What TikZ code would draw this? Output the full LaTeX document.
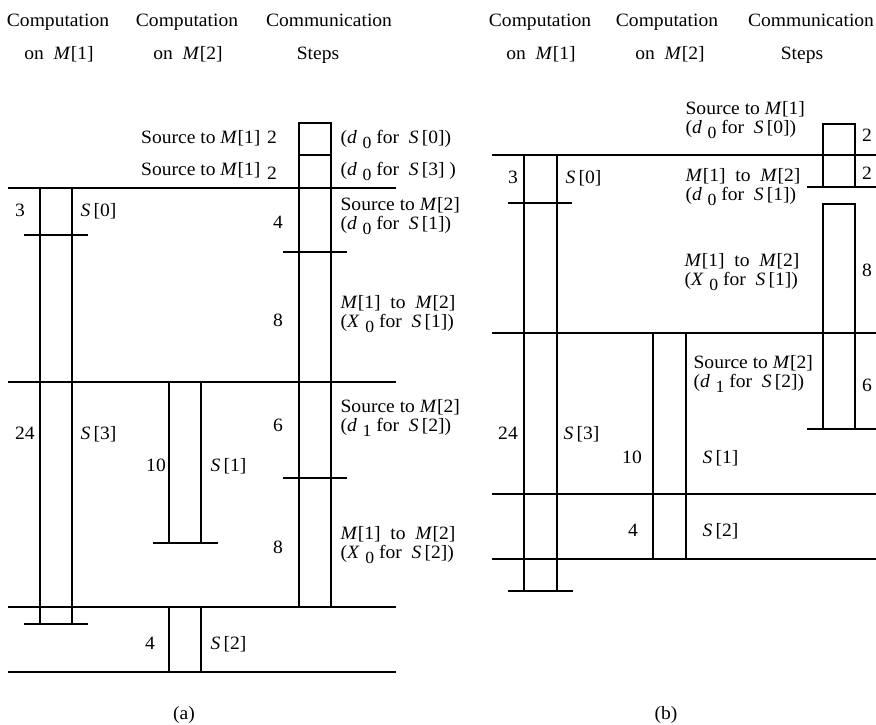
\documentclass[tikz,border=0pt]{standalone}
\usepackage{fontspec}
\setmainfont{Liberation Serif}[FakeStretch=1.04]
\newcommand{\Mx}[1]{\textit{M}[#1]}
\newcommand{\Sx}[1]{\textit{S}\,[#1]}
\newcommand{\dsub}[2]{(\textit{#1}\hspace{0.3em}\raisebox{-0.6ex}{\fontsize{17}{17}\selectfont #2}}
\begin{document}
\begin{tikzpicture}[x=1pt,y=-1pt,line width=1.2pt,
  every node/.style={inner sep=0pt,font=\fontsize{18.8}{22}\selectfont,
    text height=10pt,text depth=3pt},
  lab/.style={anchor=base,yshift=-6pt},
  lw/.style={anchor=base west,yshift=-6pt},
  le/.style={anchor=base east,yshift=-6pt}]
\useasboundingbox (0,0) rectangle (876,724);
% ---------- panel (a) headers
\node[lab] (ha1) at (58,20) {Computation};
\node[lab] (ha1b) at (59,53) {on\ \ \Mx{1}};
\node[lab] (ha2) at (187,20) {Computation};
\node[lab] (ha2b) at (188,53) {on\ \ \Mx{2}};
\node[lab] (ha3) at (329,20) {Communication};
\node[lab] (ha3b) at (318,53) {Steps};
% ---------- panel (a) lines
\draw (8,188) -- (396,188);
\draw (8,382) -- (396,382);
\draw (8,607) -- (396,607);
\draw (8,672) -- (396,672);
\draw (299,123) rectangle (331,607);
\draw (299,155) -- (331,155);
\draw (283,252) -- (347,252);
\draw (283,478) -- (347,478);
\draw (40,188) -- (40,624);
\draw (72,188) -- (72,624);
\draw (24,235) -- (88,235);
\draw (24,624) -- (88,624);
\draw (169,382) -- (169,543);
\draw (201,382) -- (201,543);
\draw (153,543) -- (218,543);
\draw (169,607) rectangle (201,672);
% ---------- panel (a) labels
\node[le] (a1) at (261,137) {Source to \Mx{1}};
\node[lab] (a1n) at (272,137) {2};
\node[lw] (a1r) at (340,137) {\dsub{d}{0} for\ \ \Sx{0})};
\node[le] (a2) at (261,169) {Source to \Mx{1}};
\node[lab] (a2n) at (272,173) {2};
\node[lw] (a2r) at (340,169) {\dsub{d}{0} for\ \ \Sx{3} )};
\node[lab] (a3) at (20,210) {3};
\node[lw] (a3s) at (80,210) {\Sx{0}};
\node[lab] (a4) at (278,222) {4};
\node[lw] (a4a) at (340,204) {Source to \Mx{2}};
\node[lw] (a4b) at (340,223) {\dsub{d}{0} for\ \ \Sx{1})};
\node[lab] (a5) at (278,320) {8};
\node[lw] (a5a) at (340,302) {\Mx{1}\ \ to\ \ \Mx{2}};
\node[lw] (a5b) at (340,321) {\dsub{X}{0} for\ \ \Sx{1})};
\node[lab] (a6) at (25,433) {24};
\node[lw] (a6s) at (80,433) {\Sx{3}};
\node[lab] (a7) at (278,425) {6};
\node[lw] (a7a) at (340,406) {Source to \Mx{2}};
\node[lw] (a7b) at (340,425) {\dsub{d}{1} for\ \ \Sx{2})};
\node[lab] (a8) at (156,465) {10};
\node[lw] (a8s) at (210,465) {\Sx{1}};
\node[lab] (a9) at (278,547) {8};
\node[lw] (a9a) at (340,533) {\Mx{1}\ \ to\ \ \Mx{2}};
\node[lw] (a9b) at (340,552) {\dsub{X}{0} for\ \ \Sx{2})};
\node[lab] (a10) at (150,643) {4};
\node[lw] (a10s) at (210,643) {\Sx{2}};
\node[lab] (capa) at (184,713) {(a)};
% ---------- panel (b) headers
\node[lab] (hb1) at (540,20) {Computation};
\node[lab] (hb1b) at (541,53) {on\ \ \Mx{1}};
\node[lab] (hb2) at (667,20) {Computation};
\node[lab] (hb2b) at (670,53) {on\ \ \Mx{2}};
\node[lab] (hb3) at (811,20) {Communication};
\node[lab] (hb3b) at (802,53) {Steps};
% ---------- panel (b) lines
\draw (492,155) -- (876,155);
\draw (492,333) -- (876,333);
\draw (492,494) -- (876,494);
\draw (492,559) -- (876,559);
\draw (823,124) rectangle (855,187);
\draw (807,187) -- (876,187);
\draw (823,204) rectangle (855,333);
\draw (823,333) -- (823,429);
\draw (855,333) -- (855,429);
\draw (807,429) -- (876,429);
\draw (524,155) -- (524,591);
\draw (557,155) -- (557,591);
\draw (508,203) -- (572,203);
\draw (508,591) -- (573,591);
\draw (653,333) rectangle (686,559);
% ---------- panel (b) labels
\node[lw] (b1a) at (685,108) {Source to \Mx{1}};
\node[lw] (b1b) at (685,127) {\dsub{d}{0} for\ \ \Sx{0})};
\node[lab] (b1n) at (867,135) {2};
\node[lab] (b2n) at (867,173) {2};
\node[lw] (b2a) at (685,175) {\Mx{1}\ \ to\ \ \Mx{2}};
\node[lw] (b2b) at (685,194) {\dsub{d}{0} for\ \ \Sx{1})};
\node[lab] (b3) at (513,177) {3};
\node[lw] (b3s) at (565,177) {\Sx{0}};
\node[lw] (b4a) at (684,260) {\Mx{1}\ \ to\ \ \Mx{2}};
\node[lw] (b4b) at (684,279) {\dsub{X}{0} for\ \ \Sx{1})};
\node[lab] (b4n) at (867,270) {8};
\node[lw] (b5a) at (693,362) {Source to \Mx{2}};
\node[lw] (b5b) at (693,381) {\dsub{d}{1} for\ \ \Sx{2})};
\node[lab] (b5n) at (867,385) {6};
\node[lab] (b6) at (508,433) {24};
\node[lw] (b6s) at (563,433) {\Sx{3}};
\node[lab] (b7) at (632,457) {10};
\node[lw] (b7s) at (702,457) {\Sx{1}};
\node[lab] (b8) at (633,530) {4};
\node[lw] (b8s) at (702,530) {\Sx{2}};
\node[lab] (capb) at (666,713) {(b)};
\end{tikzpicture}
\end{document}
